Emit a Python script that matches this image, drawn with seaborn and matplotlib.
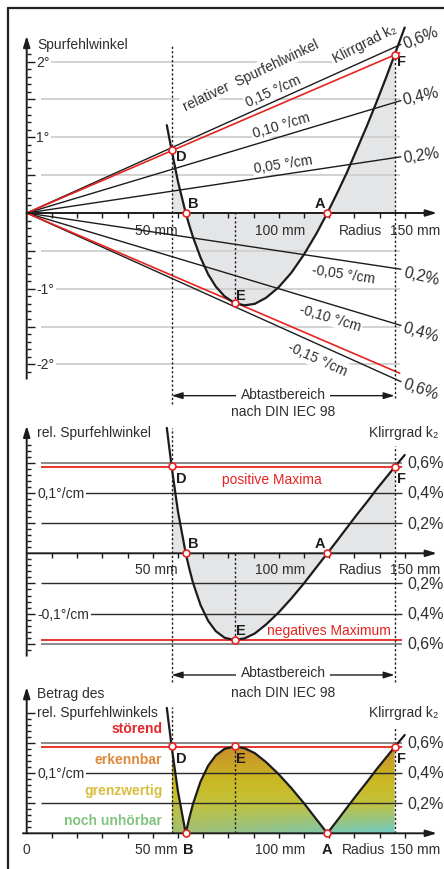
import numpy as np
import pandas as pd
import matplotlib
matplotlib.use("Agg")
import matplotlib.pyplot as plt
import seaborn as sns
from matplotlib.lines import Line2D
from matplotlib.patches import Polygon
from matplotlib.colors import to_rgb

# ---------------- data ----------------
radius_mm = [55.6, 57.5, 60.0, 63.1, 64.5, 66.0, 69.0, 72.0, 75.0, 78.5, 82.5, 86.5, 90.5,
             95.0, 100.0, 105.0, 110.0, 115.0, 119.3, 123.0, 127.0, 131.0, 135.0, 139.0,
             142.5, 146.0, 150.0]
tracking_deg = [1.16, 0.83, 0.42, 0.0, -0.16, -0.32, -0.59, -0.81, -0.97, -1.10, -1.19, -1.22, -1.20,
                -1.12, -0.98, -0.79, -0.55, -0.27, 0.0, 0.25, 0.53, 0.84, 1.15, 1.48,
                1.78, 2.09, 2.45]
rel_deg_cm = [0.208, 0.144, 0.070, 0.0, -0.025, -0.049, -0.086, -0.112, -0.129, -0.140, -0.144, -0.141, -0.133,
              -0.118, -0.098, -0.075, -0.050, -0.023, 0.0, 0.020, 0.042, 0.064, 0.085, 0.107,
              0.125, 0.143, 0.163]

point_names = ["D", "B", "E", "A", "F"]
point_radius = [57.5, 63.1, 82.5, 119.3, 146.0]
scan_range = [57.5, 146.0]

ray_slopes = [0.05, 0.10, 0.15, -0.05, -0.10, -0.15]          # °/cm
ray_labels = ["0,05 °/cm", "0,10 °/cm", "0,15 °/cm", "-0,05 °/cm", "-0,10 °/cm", "-0,15 °/cm"]
max_slope = 0.143                                               # °/cm  (red line)
k2_levels = [0.05, 0.10, 0.15]                                  # °/cm
k2_labels = ["0,2%", "0,4%", "0,6%"]
grid_deg = [-2, -1.5, -1, -0.5, 0.5, 1, 1.5, 2]
deg_labels = {2: "2°", 1: "1°", -1: "-1°", -2: "-2°"}
rating_labels = ["störend", "erkennbar", "grenzwertig", "noch unhörbar"]
rating_colors = ["#e4262b", "#e0893a", "#d9bd3c", "#80c47e"]

# ---------------- style ----------------
sns.set_theme(style="white")
FONT = ['Liberation Sans', 'DejaVu Sans']
plt.rcParams['font.family'] = FONT
FS = 10.0
FS_PCT = 11.5
FS_LET = 10.5
plt.rcParams['font.size'] = FS
TXT = '#2e2e2e'
INK = '#1c1c1c'
RED = '#e52421'
GRID = '#cfcfcf'
FILL = '#e4e5e7'

fig = plt.figure(figsize=(4.44, 8.70), dpi=100)
fig.patch.set_facecolor('white')

PX_MM = 2.52
X0 = 26.7
XLIM = (-X0 / PX_MM, (444 - X0) / PX_MM)


def make_ax(name, zero_px, px_per_unit):
    ax = fig.add_axes([0, 0, 1, 1], label=name)
    ax.set_xlim(*XLIM)
    ax.set_ylim((zero_px - 870) / px_per_unit, zero_px / px_per_unit)
    ax.axis('off')
    ax.patch.set_alpha(0)
    return ax


ax1 = make_ax('p1', 214.0, 75.7)
ax2 = make_ax('p2', 554.3, 603.0)
ax3 = make_ax('p3', 834.3, 603.0)
U1 = 1 / 75.7
U2 = 1 / 603.0
WB = dict(boxstyle='square,pad=0.12', fc='white', ec='none')

# frame
fig.add_artist(Line2D([8 / 444, 1], [1 - 9 / 870] * 2, transform=fig.transFigure, color='#222222', lw=1.6))
fig.add_artist(Line2D([8 / 444] * 2, [0, 1 - 9 / 870], transform=fig.transFigure, color='#222222', lw=1.6))


def arrow(ax, p_from, p_to, style='-|>', lw=1.4, z=6):
    ax.annotate('', xy=p_to, xytext=p_from,
                arrowprops=dict(arrowstyle=f'{style},head_length=0.65,head_width=0.2',
                                color=INK, lw=lw, shrinkA=0, shrinkB=0), zorder=z)


def draw_axes(ax, u, ybot, ytop, tick_lo, tick_hi, tick_step, major_step, xstart=0.0):
    arrow(ax, (xstart, 0), (162.8, 0))
    arrow(ax, (0, ybot), (0, ytop))
    ax.vlines(np.arange(10, 151, 10), -4.5 * u, 0, color=INK, lw=1.0, zorder=6)
    n = int(round((tick_hi - tick_lo) / tick_step))
    for i in range(n + 1):
        v = tick_lo + i * tick_step
        if abs(v) < 1e-9:
            continue
        major = abs(v / major_step - round(v / major_step)) < 1e-6
        ax.hlines(v, 0, (8 if major else 4) / PX_MM, color=INK, lw=1.0, zorder=6)


def dotted(ax, x, y0, y1):
    ax.vlines(x, y0, y1, color=INK, lw=1.0, linestyles=(0, (1.6, 1.6)), zorder=4)


def txt(ax, x, y, s, **kw):
    kw.setdefault('color', TXT)
    kw.setdefault('fontsize', FS)
    kw.setdefault('zorder', 2.5)
    return ax.text(x, y, s, **kw)


def rot_of(ax, slope_per_mm):
    p0 = ax.transData.transform((0, 0))
    p1 = ax.transData.transform((100, 100 * slope_per_mm))
    return np.degrees(np.arctan2(p1[1] - p0[1], p1[0] - p0[0]))


r_arr = np.array(radius_mm)
a_arr = np.array(tracking_deg)
v_arr = np.array(rel_deg_cm)
sel = (r_arr >= scan_range[0]) & (r_arr <= scan_range[1])
pt_idx = [int(np.argmin(np.abs(r_arr - pr))) for pr in point_radius]

# ================= Panel 1 =================
for g in grid_deg:
    ax1.hlines(g, 5.8, 121 if g == 2 else 148, color=GRID, lw=1.3, zorder=1)
ax1.fill_between(r_arr[sel], a_arr[sel], 0, color=FILL, lw=0, zorder=0.5)
for k in ray_slopes:
    ax1.plot([0, 148.5], [0, k * 14.85], color=INK, lw=1.0, zorder=3)
for s in (max_slope, -max_slope):
    ax1.plot([0, 148.0], [0, s * 14.8], color=RED, lw=1.2, zorder=3.2)
sns.lineplot(x=radius_mm, y=tracking_deg, ax=ax1, color=INK, lw=1.6, zorder=5)
draw_axes(ax1, U1, -2.19, 2.34, -2.1, 2.1, 0.1, 0.5)
dotted(ax1, scan_range[0], -2.52, 2.21)
dotted(ax1, scan_range[1], -2.44, a_arr[pt_idx[4]])
dotted(ax1, point_radius[2], a_arr[pt_idx[2]], 0)
ax1.plot(r_arr[pt_idx], a_arr[pt_idx], 'o', ms=5, mfc='white', mec=RED, mew=1.2, zorder=8)

txt(ax1, 4.1, 2.232, "Spurfehlwinkel", va='center', ha='left')
for v, s in deg_labels.items():
    txt(ax1, 3.7, v, s, va='center', ha='left', bbox=WB)
txt(ax1, 51.3, -0.22, "50 mm", ha='center', va='center', bbox=WB)
txt(ax1, 100.5, -0.22, "100 mm", ha='center', va='center')
txt(ax1, 132.3, -0.22, "Radius", ha='center', va='center')
txt(ax1, 154.0, -0.22, "150 mm", ha='center', va='center')

ray_pos = [(102.0, 0.137), (100.9, 0.153), (98.0, 0.146), (125.8, -0.177), (120.5, -0.173), (115.2, -0.20)]
for k, lab, (rp, off) in zip(ray_slopes, ray_labels, ray_pos):
    txt(ax1, rp, k * rp / 10 + off, lab, ha='center', va='center', rotation=rot_of(ax1, k / 10),
        rotation_mode='anchor', bbox=WB)
txt(ax1, 89.0, 1.83, "relativer  Spurfehlwinkel", ha='center', va='center',
    rotation=rot_of(ax1, 0.0158), rotation_mode='anchor', bbox=WB)
txt(ax1, 134.0, 2.25, "Klirrgrad k₂", ha='center', va='center', rotation=27, rotation_mode='anchor', bbox=WB)

pct_pos1 = [(0.766, 8.5), (1.546, 13), (2.325, 22), (-0.832, -13), (-1.572, -16), (-2.325, -19)]
for (yy, rr), lab in zip(pct_pos1, k2_labels + k2_labels):
    txt(ax1, 156.5, yy, lab, ha='center', va='center', rotation=rr, rotation_mode='anchor', fontsize=FS_PCT)

letter_pos1 = [(61.5, 0.75), (65.9, 0.13), (85.0, -1.08), (116.3, 0.13), (148.9, 2.01)]
for n, (lx, ly) in zip(point_names, letter_pos1):
    txt(ax1, lx, ly, n, ha='center', va='center', fontweight='bold', color=INK, zorder=7, fontsize=FS_LET)

arrow(ax1, (101.7, -2.413), (scan_range[0], -2.413), lw=1.0, z=2)
arrow(ax1, (101.7, -2.413), (scan_range[1], -2.413), lw=1.0, z=2)
txt(ax1, 101.7, -2.39, "Abtastbereich", ha='center', va='center', bbox=dict(boxstyle='square,pad=0.3', fc='white', ec='none'), zorder=3)
txt(ax1, 101.7, -2.615, "nach DIN IEC 98", ha='center', va='center')

# ================= Panel 2 =================
ax2.fill_between(r_arr[sel], v_arr[sel], 0, color=FILL, lw=0, zorder=0.5)
for lv in k2_levels:
    c, lw = ('#8a8a8a', 1.4) if lv == 0.15 else ('#2a2a2a', 1.0)
    ax2.hlines([lv, -lv], 5.8, 148.9, color=c, lw=lw, zorder=2)
ax2.hlines([max_slope, -max_slope], 5.8, 148.9, color=RED, lw=1.3, zorder=2.2)
sns.lineplot(x=radius_mm, y=rel_deg_cm, ax=ax2, color=INK, lw=1.6, zorder=5)
draw_axes(ax2, U2, -0.17, 0.2116, -0.16, 0.18, 0.01, 0.05)
dotted(ax2, scan_range[0], -0.2134, 0.2078)
dotted(ax2, scan_range[1], -0.2134, 0.1784)
dotted(ax2, point_radius[2], v_arr[pt_idx[2]], 0)
ax2.plot(r_arr[pt_idx], v_arr[pt_idx], 'o', ms=5, mfc='white', mec=RED, mew=1.2, zorder=8)

txt(ax2, 4.1, 0.2012, "rel. Spurfehlwinkel", ha='left', va='center')
txt(ax2, 149.7, 0.2012, "Klirrgrad k₂", ha='center', va='center')
txt(ax2, 4.1, 0.1, "0,1°/cm", ha='left', va='center', bbox=WB)
txt(ax2, 4.1, -0.1, "-0,1°/cm", ha='left', va='center', bbox=WB)
for lv, lab in zip(k2_levels, k2_labels):
    txt(ax2, 150.9, lv, lab, ha='left', va='center', fontsize=FS_PCT)
    txt(ax2, 150.9, -lv, lab, ha='left', va='center', fontsize=FS_PCT)
txt(ax2, 97.3, 0.1227, "positive Maxima", ha='center', va='center', color=RED)
txt(ax2, 120.0, -0.1272, "negatives Maximum", ha='center', va='center', color=RED)
for lab, lx in zip(["50 mm", "100 mm", "Radius", "150 mm"], [51.3, 100.5, 132.3, 154.0]):
    txt(ax2, lx, -0.026, lab, ha='center', va='center')
letter_pos2 = [(61.5, 0.1244), (65.9, 0.0171), (85.0, -0.1272), (116.5, 0.0166), (148.9, 0.1244)]
for n, (lx, ly) in zip(point_names, letter_pos2):
    txt(ax2, lx, ly, n, ha='center', va='center', fontweight='bold', color=INK, zorder=7, fontsize=FS_LET)
arrow(ax2, (101.7, -0.2018), (scan_range[0], -0.2018), lw=1.0, z=2)
arrow(ax2, (101.7, -0.2018), (scan_range[1], -0.2018), lw=1.0, z=2)
txt(ax2, 101.7, -0.1973, "Abtastbereich", ha='center', va='center', bbox=dict(boxstyle='square,pad=0.3', fc='white', ec='none'), zorder=3)
txt(ax2, 101.7, -0.2295, "nach DIN IEC 98", ha='center', va='center')

# ================= Panel 3 =================
abs_v = np.abs(v_arr)
verts = [(r_arr[sel][0], 0)] + list(zip(r_arr[sel], abs_v[sel])) + [(r_arr[sel][-1], 0)]
poly = Polygon(verts, closed=True, fc='none', ec='none', transform=ax3.transData)
ax3.add_patch(poly)
ny, nx = 200, 200
yy = np.linspace(0, 0.16, ny)
stops_v = [0.0, 0.05, 0.09, 0.145]
top_cols = [to_rgb(c) for c in ["#c3c23a", "#cbb722", "#c98a2e"]]
left0, right0 = to_rgb("#a3bd72"), to_rgb("#6fcbc6")
img = np.zeros((ny, nx, 3))
xs = np.linspace(0, 1, nx)
for ch in range(3):
    for j, f in enumerate(xs):
        c0 = left0[ch] * (1 - f) + right0[ch] * f
        img[:, j, ch] = np.interp(yy, stops_v, [c0] + [c[ch] for c in top_cols])
im = ax3.imshow(img, extent=[scan_range[0], scan_range[1], 0, 0.16], origin='lower',
                aspect='auto', zorder=0.5, interpolation='bilinear')
im.set_clip_path(poly)

for lv in k2_levels:
    c, lw = ('#8a8a8a', 1.4) if lv == 0.15 else ('#2a2a2a', 1.0)
    ax3.hlines(lv, 5.8, 148.9, color=c, lw=lw, zorder=2)
ax3.hlines(max_slope, 5.8, 148.9, color=RED, lw=1.3, zorder=2.2)
sns.lineplot(x=radius_mm, y=abs_v, ax=ax3, color=INK, lw=1.6, zorder=5)
draw_axes(ax3, U2, 0, 0.2426, 0.0, 0.20, 0.01, 0.05, xstart=-1.5)
dotted(ax3, scan_range[0], 0, 0.2095)
dotted(ax3, scan_range[1], 0, 0.1763)
dotted(ax3, point_radius[2], 0, abs_v[pt_idx[2]])
ax3.plot(r_arr[pt_idx], abs_v[pt_idx], 'o', ms=5, mfc='white', mec=RED, mew=1.2, zorder=8)

txt(ax3, 4.1, 0.2322, "Betrag des", ha='left', va='center')
txt(ax3, 4.1, 0.2007, "rel. Spurfehlwinkels", ha='left', va='center')
txt(ax3, 149.7, 0.2007, "Klirrgrad k₂", ha='center', va='center')
txt(ax3, 4.1, 0.1, "0,1°/cm", ha='left', va='center', bbox=WB)
for lv, lab in zip(k2_levels, k2_labels):
    txt(ax3, 150.9, lv, lab, ha='left', va='center', fontsize=FS_PCT)
for lab, col, ly in zip(rating_labels, rating_colors, [0.1741, 0.1233, 0.0723, 0.0226]):
    txt(ax3, 53.8, ly, lab, ha='right', va='center', color=col, fontweight='bold')
txt(ax3, 0, -0.026, "0", ha='center', va='center')
for lab, lx in zip(["50 mm", "100 mm", "Radius", "150 mm"], [51.3, 100.5, 133.5, 154.0]):
    txt(ax3, lx, -0.026, lab, ha='center', va='center')
txt(ax3, 64.1, -0.026, "B", ha='center', va='center', fontweight='bold', color=INK, fontsize=FS_LET)
txt(ax3, 119.2, -0.026, "A", ha='center', va='center', fontweight='bold', color=INK, fontsize=FS_LET)
letter_pos3 = [(61.5, 0.1244), (85.0, 0.1244), (148.9, 0.1244)]
for n, (lx, ly) in zip(["D", "E", "F"], letter_pos3):
    txt(ax3, lx, ly, n, ha='center', va='center', fontweight='bold', color=INK, zorder=7, fontsize=FS_LET)

for ax, z, u in ((ax1, 214.0, 75.7), (ax2, 554.3, 603.0), (ax3, 834.3, 603.0)):
    ax.set_xlim(*XLIM)
    ax.set_ylim((z - 870) / u, z / u)

fig.savefig("out.png", dpi=100, facecolor='white')
